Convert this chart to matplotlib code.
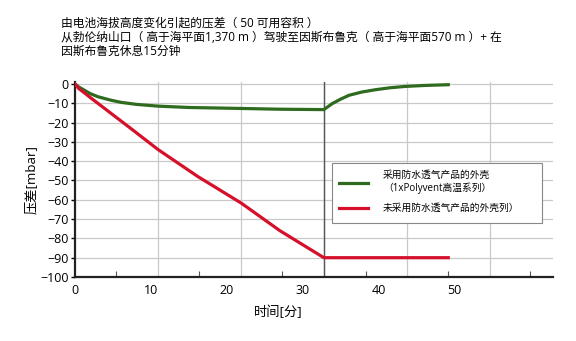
import matplotlib
matplotlib.use("Agg")
import matplotlib.pyplot as plt
from matplotlib.patches import Rectangle

plt.rcParams['font.family'] = ['Open Sans', 'Noto Sans CJK SC', 'DejaVu Sans']

# --- data ---
t_green = [0, 0.5, 1.3, 2.0, 3.0, 4.6, 6.0, 8.1, 10.95, 15.0, 21.9, 27.0, 32.8,
           33.9, 35.0, 36.1, 37.8, 39.6, 41.5, 43.5, 46.0, 49.2]
p_green = [0, -1.6, -3.4, -5.0, -6.6, -8.3, -9.5, -10.6, -11.5, -12.2, -12.7, -13.1, -13.3,
           -10.2, -7.9, -5.9, -4.2, -3.0, -2.0, -1.3, -0.8, -0.4]

t_red = [0, 0.5, 1.3, 2.0, 3.0, 4.6, 7.0, 10.95, 16.2, 21.9, 27.0, 32.8, 49.2]
p_red = [0, -2.4, -4.8, -7.0, -10.0, -14.8, -22.0, -34.0, -48.0, -61.7, -76.0, -90.0, -90.0]

x_labels = [0, 10, 20, 30, 40, 50]
y_ticks = list(range(0, -101, -10))

label_green = '采用防水透气产品的外壳\n（1xPolyvent高温系列）'
label_red = '未采用防水透气产品的外壳列）'
title = ('由电池海拔高度变化引起的压差（ 50 可用容积 ）\n'
         '从勃伦纳山口（ 高于海平面1,370 m ）驾驶至因斯布鲁克（ 高于海平面570 m ）+ 在\n'
         '因斯布鲁克休息15分钟')

green = '#2f6b1f'
red = '#d6102b'

fig = plt.figure(figsize=(5.76, 3.41), dpi=100)
ax = fig.add_axes([75 / 576, 1 - 277 / 341, 478 / 576, 195 / 341])

ax.set_xlim(0, 63)
ax.set_ylim(-100, 1)

# grid (the reference grid doesn't line up with its tick labels)
grid_x = [10.95, 21.9, 32.85, 43.8, 54.7]
minor_x = [5.45, 16.3, 27.3, 38.4, 49.2, 60.0]
for y in y_ticks[:-1]:
    ax.axhline(y, color='#c9c9c9', lw=0.9, zorder=0)
for x in grid_x:
    ax.axvline(x, color='#c9c9c9', lw=0.9, zorder=0)
ax.axvline(32.85, color='#555555', lw=1.0, zorder=1)

ax.plot(t_green, p_green, color=green, lw=2.3, label=label_green, zorder=3,
        solid_joinstyle='round')
ax.plot(t_red, p_red, color=red, lw=2.3, label=label_red, zorder=3,
        solid_joinstyle='round')

ax.set_xticks(x_labels)
ax.set_xticks(minor_x, minor=True)
ax.tick_params(axis='x', which='major', length=0, pad=5, labelsize=9)
ax.tick_params(axis='x', which='minor', length=4, direction='in', width=0.8, color='#555555')
ax.set_yticks(y_ticks)
ax.tick_params(axis='y', length=3, width=1, pad=1.5, labelsize=9)

for s in ['top', 'right']:
    ax.spines[s].set_visible(False)
for s in ['left', 'bottom']:
    ax.spines[s].set_linewidth(1.6)
    ax.spines[s].set_color('#222222')

ax.set_ylabel('压差[mbar]', fontsize=9.5, labelpad=2)
fig.text(278 / 576, 1 - 312 / 341, '时间[分]', fontsize=9.5, ha='center', va='center')

fig.text(61 / 576, 1 - 17 / 341, title, fontsize=8.5, ha='left', va='top', linespacing=1.1)

# legend box is wider than its text in the reference, so draw the frame by hand
box = Rectangle((332 / 576, 1 - 223 / 341), 210 / 576, 60 / 341,
                transform=fig.transFigure, facecolor='white',
                edgecolor='#888888', lw=0.8, zorder=4, clip_on=False)
ax.add_patch(box)
leg = ax.legend(loc='upper left', bbox_to_anchor=(332 / 576, 1 - 163 / 341),
                bbox_transform=fig.transFigure, fontsize=7.0, frameon=False,
                borderaxespad=0, handlelength=3.0, handletextpad=1.5, borderpad=0.75,
                labelspacing=0.9)
leg.set_zorder(5)

fig.savefig('out.png', dpi=100)
